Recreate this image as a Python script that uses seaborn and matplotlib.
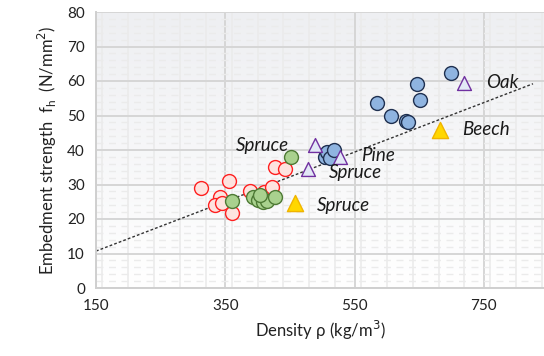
import numpy as np
import pandas as pd
import matplotlib
matplotlib.use("Agg")
import matplotlib.pyplot as plt
import seaborn as sns
from matplotlib.ticker import MultipleLocator
from matplotlib.colors import LinearSegmentedColormap

# ---- data ----
blue_x = [699, 647, 651, 585, 607, 629, 632, 504, 507, 512, 518]
blue_y = [62.4, 59.1, 54.5, 53.5, 49.8, 48.5, 48.0, 38.1, 39.3, 37.8, 40.1]

green_x = [451, 361, 393, 401, 409, 414, 427, 404]
green_y = [38.1, 25.2, 26.3, 25.5, 25.0, 25.2, 26.3, 27.0]

red_x = [312, 356, 427, 443, 342, 334, 345, 360, 388, 410, 422]
red_y = [29.1, 31.0, 35.2, 34.5, 26.3, 24.0, 24.5, 21.8, 28.2, 27.8, 29.4]

purple_x = [719, 489, 527, 478]
purple_y = [59.5, 41.5, 38.0, 34.5]

yellow_x = [682, 458]
yellow_y = [45.9, 24.5]

reg_x = [150, 826]
reg_y = [10.7, 59.2]

labels = ["Oak", "Beech", "Spruce", "Pine", "Spruce", "Spruce"]
label_x = [753, 716, 366, 560, 510, 492]
label_y = [59.6, 45.9, 41.3, 38.5, 33.4, 24.0]

xticks = [150, 350, 550, 750]
yticks = [0, 10, 20, 30, 40, 50, 60, 70, 80]

# ---- style ----
sns.set_theme(style="white")
plt.rcParams['font.family'] = ['Lato', 'DejaVu Sans']

fig = plt.figure(figsize=(5.44, 3.56), dpi=100)
ax = fig.add_axes([96/544, 1 - 288/356, 1 - 96/544, (288 - 12)/356])

# gradient background
grad = np.linspace(1, 0, 256).reshape(-1, 1)
cmap = LinearSegmentedColormap.from_list("bg", ["#ffffff", "#eeeff2"])
ax.imshow(grad, extent=[0, 1, 0, 1], transform=ax.transAxes, aspect="auto",
          cmap=cmap, zorder=0)

ax.set_xlim(150, 843)
ax.set_ylim(0, 80)
ax.set_xticks(xticks)
ax.set_yticks(yticks)
ax.xaxis.set_minor_locator(MultipleLocator(40))
ax.yaxis.set_minor_locator(MultipleLocator(2))

ax.grid(which="minor", axis="x", color="#ebebeb", lw=1.2, zorder=0.5)
ax.grid(which="minor", axis="y", color="#ebebeb", lw=1.0, ls=(0, (5, 4)), zorder=0.5)
ax.grid(which="major", color="#d6d6d6", lw=1.4, zorder=0.6)
ax.set_axisbelow(True)

# regression line
sns.lineplot(x=reg_x, y=reg_y, ax=ax, color="#333333", lw=1.0,
             linestyle=(0, (2, 1.5)), zorder=2)

ms = 100
sns.scatterplot(x=red_x, y=red_y, ax=ax, s=ms, marker="o",
                color="#fde3df", edgecolor="#ff2020", linewidth=1.0, zorder=3)
sns.scatterplot(x=green_x, y=green_y, ax=ax, s=ms, marker="o",
                color="#a9d18e", edgecolor="#4e7a35", linewidth=1.0, zorder=3)
sns.scatterplot(x=blue_x, y=blue_y, ax=ax, s=ms, marker="o",
                color="#8fb4e0", edgecolor="#1f3050", linewidth=1.0, zorder=4)
sns.scatterplot(x=purple_x, y=purple_y, ax=ax, s=ms, marker="^",
                color="#e2e8f6", edgecolor="#7030a0", linewidth=1.0, zorder=5)
sns.scatterplot(x=yellow_x, y=yellow_y, ax=ax, s=135, marker="^",
                color="#ffd700", edgecolor="#f0b400", linewidth=1.0, zorder=5)

for t, x, y in zip(labels, label_x, label_y):
    ax.text(x, y, t, fontsize=13.5, style="italic", color="#1a1a1a",
            ha="left", va="center", zorder=6)

for side in ["top", "right"]:
    ax.spines[side].set_visible(False)
for side in ["left", "bottom"]:
    ax.spines[side].set_color("#cfcfcf")
    ax.spines[side].set_linewidth(1.4)

ax.tick_params(axis="both", which="major", length=5, width=1.0, color="#cfcfcf",
               labelsize=11, labelcolor="#222222", pad=3)
ax.tick_params(which="minor", length=0)

ax.set_xlabel("Density ρ (kg/m$^3$)", fontsize=12, color="#222222", labelpad=4)
ax.set_ylabel("Embedment strength  f$_\\mathregular{h}$  (N/mm$^2$)", fontsize=12,
              color="#222222", labelpad=6)

fig.savefig("out.png", dpi=100)
